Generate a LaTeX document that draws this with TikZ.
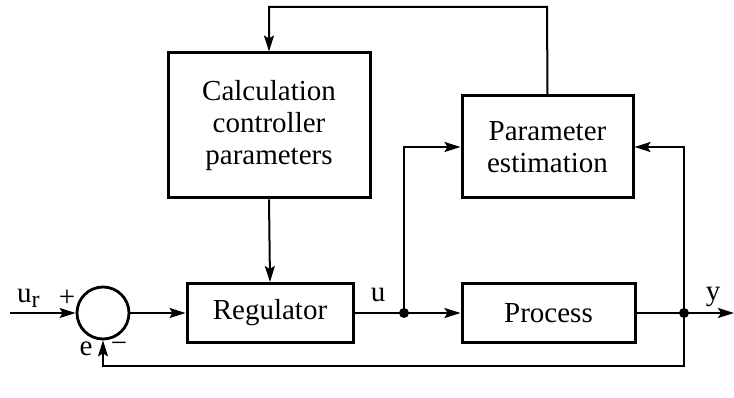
\documentclass[tikz,border=0pt]{standalone}
\usepackage{fontspec}
\setmainfont{Liberation Serif}
\usetikzlibrary{arrows.meta,calc}
\begin{document}
\begin{tikzpicture}[x=1pt,y=1pt,
  blk/.style={draw, line width=3pt, inner sep=0pt, align=center, font=\fontsize{29}{32}\selectfont},
  conn/.style={line width=2pt, -{Stealth[length=16pt,width=10pt,inset=3pt]}},
  wire/.style={line width=2pt},
  lbl/.style={font=\fontsize{29}{32}\selectfont, inner sep=0pt},
  jdot/.style={circle, fill, inner sep=0pt, minimum size=10pt}]
\useasboundingbox (0,0) rectangle (734,398);
\node[blk, minimum width=202, minimum height=145] (calc) at (269,272.5) {Calculation\\controller\\parameters};
\node[blk, minimum width=171, minimum height=102] (est) at (547.5,251) {Parameter\\estimation};
\node[blk, minimum width=166, minimum height=59] (reg) at (270,85) {Regulator};
\node[blk, minimum width=173, minimum height=59] (proc) at (548.5,85) {Process};
\node[draw, circle, line width=2.8pt, minimum size=52pt, inner sep=0pt] (sum) at (103,85) {};
\coordinate (in) at (10,85);
\coordinate (out) at (734,85);
\node[jdot] (j1) at (404,85) {};
\node[jdot] (j2) at (684,85) {};
\coordinate (top1) at (547,391);
\coordinate (top2) at (269,391);
\coordinate (bot1) at (684,32);
\coordinate (bot2) at (103,32);
\draw[conn] (in) -- (sum.west);
\draw[conn] (sum.east) -- (reg.west);
\draw[wire] (reg.east) -- (j1.center);
\draw[conn] (j1.center) -- (proc.west);
\draw[conn] (j1.center) |- (est.west);
\draw[wire] (proc.east) -- (j2.center);
\draw[conn] (j2.center) -- (out);
\draw[conn] (j2.center) |- (est.east);
\draw[conn] (j2.center) -- (bot1) -- (bot2) -- (sum.south);
\draw[conn] (est.north) -- (top1) -- (top2) -- (calc.north);
\draw[conn] (calc.south) -- (reg.north);
\node[lbl, anchor=base west] (ur) at (17,95) {u\raisebox{-5pt}{\fontsize{24}{24}\selectfont r}};
\node[lbl] (plus) at (67,100) {+};
\node[lbl] (e) at (86,49) {e};
\node[lbl] (minus) at (119,51) {\textminus};
\node[lbl, anchor=base] (u) at (378,96) {u};
\node[lbl, anchor=base] (y) at (713,97) {y};
\end{tikzpicture}
\end{document}
